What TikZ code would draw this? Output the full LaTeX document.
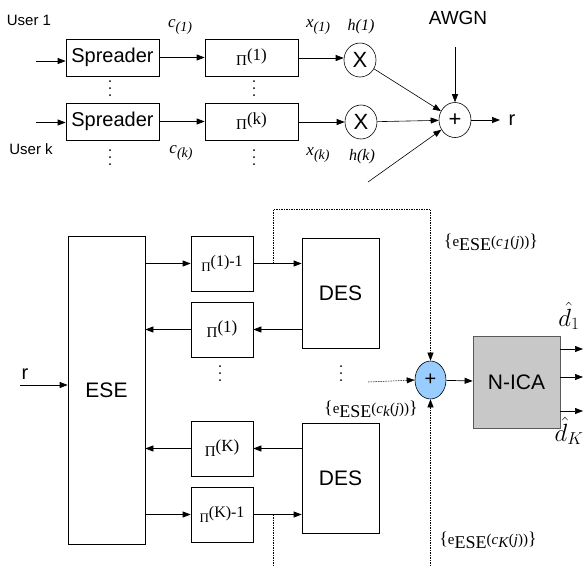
\documentclass[tikz,border=0pt]{standalone}
\usepackage{fontspec}
\setmainfont{Liberation Serif}
\setsansfont{Liberation Sans}
\usetikzlibrary{arrows.meta,shapes.geometric}
\newcommand\fsz[1]{\fontsize{#1}{#1}\selectfont}
\newcommand\pilab[3]{{\fsz{#2}Π}\raisebox{5pt}{\fsz{#3}#1}}
\newcommand\elab[1]{{\fsz{18}\{}{\fsz{15}e}\raisebox{-4pt}{\fsz{18}ESE}{\fsz{15}(\textit{c}\raisebox{-3pt}{\textit{#1}}(\textit{j}))}{\fsz{18}\}}}
\newcommand\mysub[2]{\textit{#1}\raisebox{-4pt}{\fsz{14}\textit{#2}}}
\begin{document}
\begin{tikzpicture}[x=1pt,y=-1pt,
  box/.style={draw, line width=0.7pt, inner sep=0pt, font=\sffamily\fsz{20}},
  pibox/.style={draw, line width=0.7pt, inner sep=0pt, font=\rmfamily},
  circ/.style={draw, ellipse, line width=0.6pt, inner sep=0pt, minimum width=32pt, minimum height=34pt, font=\sffamily\fsz{22}},
  arr/.style={-{Triangle[length=8pt,width=6pt]}, line width=0.7pt},
  dotarr/.style={-{Triangle[length=8pt,width=6pt]}, line width=0.5pt, dash pattern=on 1.5pt off 1pt},
  dotline/.style={line width=0.5pt, dash pattern=on 1.5pt off 1pt},
  lab/.style={inner sep=0pt, font=\sffamily\fsz{15}},
  mlab/.style={inner sep=0pt, font=\rmfamily\fsz{17}},
]
\useasboundingbox (0,0) rectangle (584,566);

% ---------- top: transmitter ----------
\node[box, minimum width=93pt, minimum height=37pt] (sp1) at (112.5,57.5) {Spreader};
\node[box, minimum width=93pt, minimum height=37pt] (sp2) at (112.5,121.5) {Spreader};
\node[pibox, minimum width=93pt, minimum height=37pt] (pi1) at (251.5,57.5) {\pilab{(1)}{15}{17}};
\node[pibox, minimum width=93pt, minimum height=37pt] (pik) at (251.5,121.5) {\pilab{(k)}{15}{17}};
\node[circ] (x1) at (360,60) {X};
\node[circ] (xk) at (361,122) {X};
\node[circ, minimum width=32pt, minimum height=35pt] (sum1) at (455,120) {+};

\node[lab] (u1) at (29,20) {User 1};
\node[lab] (uk) at (31,149) {User k};
\node[mlab] (c1) at (180,27) {\mysub{c}{(1)}};
\node[mlab] (ck) at (181,153) {\mysub{c}{(k)}};
\node[mlab] (xl1) at (318,27) {\mysub{x}{(1)}};
\node[mlab] (xlk) at (318,155) {\mysub{x}{(k)}};
\node[mlab, font=\rmfamily\itshape\fsz{16}] (h1) at (361,27) {h(1)};
\node[mlab, font=\rmfamily\itshape\fsz{16}] (hk) at (362,157) {h(k)};
\node[lab, font=\sffamily\fsz{19}] (awgn) at (458,18) {AWGN};
\node[lab, font=\sffamily\fsz{20}] (rout) at (512,120) {r};

\foreach \px/\py in {110/88, 254/88, 110/157, 254/157, 220/373, 341/373}
  \foreach \dy in {-7,0,7}
    \fill (\px,\py+\dy) circle (1pt);

\coordinate (in1) at (36,61);
\coordinate (ink) at (36,122.5);
\coordinate (aw) at (455,47);
\coordinate (lowin) at (368,182);
\coordinate (rend) at (500,120);

\draw[arr] (in1) -- (sp1.west |- in1);
\draw[arr] (ink) -- (sp2.west |- ink);
\draw[arr] (sp1) -- (pi1);
\draw[arr] (sp2) -- (pik);
\draw[arr] (pi1.east |- 0,58) -- (x1.west |- 0,58);
\draw[arr] (pik.east |- xk) -- (xk);
\draw[arr, line width=0.6pt] (x1) -- (sum1);
\draw[arr, line width=0.6pt] (xk) -- (sum1);
\draw[arr, line width=0.6pt] (aw) -- (sum1);
\draw[arr, line width=0.6pt] (lowin) -- (sum1);
\draw[arr] (sum1) -- (rend);

% ---------- bottom: receiver ----------
\node[box, minimum width=77pt, minimum height=308pt, font=\sffamily\fsz{21}] (ese) at (106.5,390) {ESE};
\node[pibox, minimum width=62pt, minimum height=55pt] (pa) at (222,263.5) {\pilab{(1)-1}{13}{16}};
\node[pibox, minimum width=62pt, minimum height=55pt] (pb) at (222,329.5) {\pilab{(1)}{15}{17}};
\node[pibox, minimum width=62pt, minimum height=55pt] (pc) at (222,448.5) {\pilab{(K)}{15}{17}};
\node[pibox, minimum width=62pt, minimum height=55pt] (pd) at (222,514.5) {\pilab{(K)-1}{13}{16}};
\node[box, minimum width=77pt, minimum height=110pt, font=\sffamily\fsz{21}] (des1) at (340.5,293) {DES};
\node[box, minimum width=77pt, minimum height=110pt, font=\sffamily\fsz{21}] (des2) at (340.5,478) {DES};
\node[circ, fill={rgb,255:red,153;green,204;blue,255}, minimum width=31pt, minimum height=38pt, font=\sffamily\fsz{20}] (sum2) at (430.5,380) {+};
\node[box, fill={rgb,255:red,200;green,200;blue,200}, draw={rgb,255:red,90;green,90;blue,90}, minimum width=87pt, minimum height=92pt, font=\sffamily\fsz{21}] (nica) at (516.5,382) {N-ICA};

\node[lab, font=\sffamily\fsz{20}] (rin) at (25,374) {r};
\node[inner sep=0pt, font=\rmfamily] (e1) at (491,242) {\elab{1}};
\node[inner sep=0pt, font=\rmfamily] (ek) at (371,409) {\elab{k}};
\node[inner sep=0pt, font=\rmfamily] (eK) at (488,540) {\elab{K}};
\node[inner sep=0pt, font=\fsz{24}] (dh1) at (569,316) {$\hat{d}_1$};
\node[inner sep=0pt, font=\fsz{24}] (dhK) at (569,431) {$\hat{d}_K$};

\coordinate (r0) at (20,385);
\coordinate (t1) at (273,263.5);
\coordinate (t2) at (273,514.5);
\coordinate (t2e) at (273,566);
\coordinate (bot) at (430.5,566);
\coordinate (lft) at (368,382);
\coordinate (o1) at (583,349);
\coordinate (o2) at (583,377);
\coordinate (o3) at (583,411);

\draw[arr] (r0) -- (ese.west |- r0);
\draw[arr] (ese.east |- pa) -- (pa);
\draw[arr] (pa) -- (des1.west |- pa);
\draw[arr] (des1.west |- pb) -- (pb);
\draw[arr] (pb) -- (ese.east |- pb);
\draw[arr] (des2.west |- pc) -- (pc);
\draw[arr] (pc) -- (ese.east |- pc);
\draw[arr] (ese.east |- pd) -- (pd);
\draw[arr] (pd) -- (des2.west |- pd);

\draw[dotarr] (t1) -- ++(0,-54.5) -| (sum2.north);
\draw[dotline] (t2) -- (t2e);
\draw[dotarr] (bot) -- (sum2.south);
\draw[dotarr] (lft) -- (sum2.west);
\draw[arr] (sum2) -- (nica);
\draw[arr] (nica.east |- o1) -- (o1);
\draw[arr] (nica.east |- o2) -- (o2);
\draw[arr] (nica.east |- o3) -- (o3);
\end{tikzpicture}
\end{document}
